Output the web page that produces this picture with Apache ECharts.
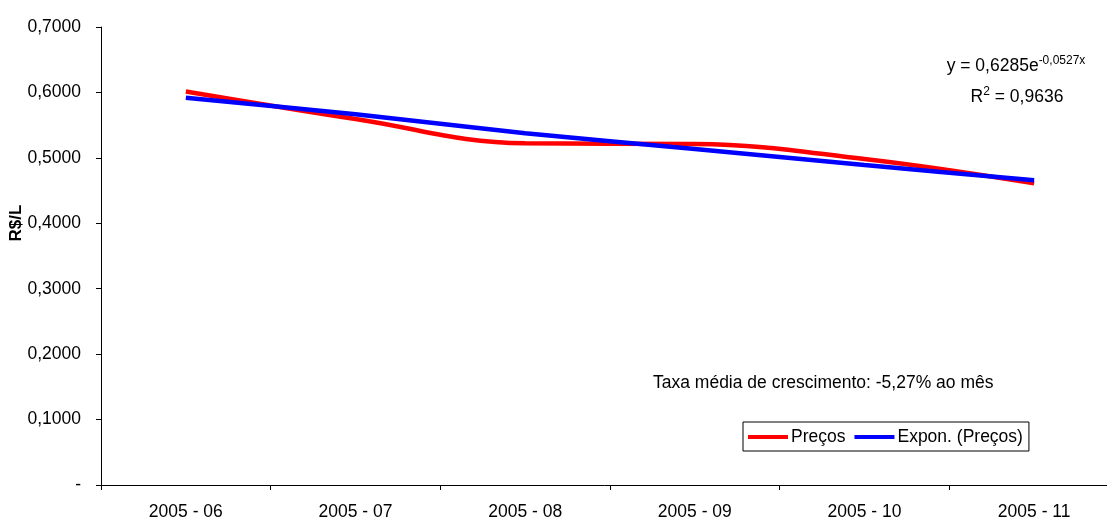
<!DOCTYPE html>
<html>
<head>
<meta charset="utf-8">
<script src="https://cdn.jsdelivr.net/npm/echarts@6/dist/echarts.min.js"></script>
<style>
html,body{margin:0;padding:0;background:#fff;}
#c{width:1107px;height:523px;}
</style>
</head>
<body>
<div id="c"></div>
<script>
const categories = ['2005 - 06', '2005 - 07', '2005 - 08', '2005 - 09', '2005 - 10', '2005 - 11'];
const precos = [0.6015, 0.5594, 0.5222, 0.5212, 0.4982, 0.4610];
const exponPrecos = [0.5920, 0.5666, 0.5375, 0.5135, 0.4890, 0.4657];
const yTickValues = [0, 0.1, 0.2, 0.3, 0.4, 0.5, 0.6, 0.7];
const yTickLabels = ['-', '0,1000', '0,2000', '0,3000', '0,4000', '0,5000', '0,6000', '0,7000'];
const seriesNames = ['Preços', 'Expon. (Preços)'];

const FONT = 'Liberation Sans, Arial, sans-serif';
const FS = 17.5;
const chart = echarts.init(document.getElementById('c'), null, {renderer: 'canvas'});

chart.setOption({
  backgroundColor: '#ffffff',
  animation: false,
  grid: {left: 101, top: 27, width: 1018, height: 458, containLabel: false, outerBoundsMode: 'none'},
  legend: {
    left: 743, top: 422,
    padding: [6, 6, 5, 5],
    borderColor: '#000', borderWidth: 1,
    itemWidth: 40, itemHeight: 4, itemGap: 9,
    icon: 'rect',
    textStyle: {fontFamily: FONT, fontSize: FS, color: '#000', padding: [0, 0, 0, -2]},
    data: seriesNames
  },
  xAxis: {
    type: 'category',
    data: categories,
    boundaryGap: true,
    axisLine: {lineStyle: {color: '#000', width: 1}},
    axisTick: {show: true, length: 5, lineStyle: {color: '#000'}},
    axisLabel: {fontFamily: FONT, fontSize: FS, color: '#000', margin: 18},
    splitLine: {show: false}
  },
  yAxis: {
    type: 'value',
    min: 0, max: 0.7, interval: 0.1,
    name: '',
    axisLine: {show: true, lineStyle: {color: '#000', width: 1}},
    axisTick: {show: true, length: 5, lineStyle: {color: '#000'}},
    splitLine: {show: false},
    axisLabel: {
      fontFamily: FONT, fontSize: FS, color: '#000', margin: 20,
      formatter: function (v) {
        const i = yTickValues.findIndex(t => Math.abs(t - v) < 1e-9);
        return i >= 0 ? yTickLabels[i] : '';
      }
    }
  },
  series: [
    {
      name: seriesNames[0], type: 'line', data: precos, smooth: 0.4,
      symbol: 'none', showSymbol: false,
      lineStyle: {color: '#ff0000', width: 4.5},
      itemStyle: {color: '#ff0000'},
      z: 2
    },
    {
      name: seriesNames[1], type: 'line', data: exponPrecos, smooth: 0.3,
      symbol: 'none', showSymbol: false,
      lineStyle: {color: '#0000ff', width: 4.5},
      itemStyle: {color: '#0000ff'},
      z: 3
    }
  ],
  graphic: [
    {
      type: 'text', x: 16, y: 223, rotation: Math.PI / 2,
      style: {text: 'R$/L', font: 'bold 17px ' + FONT, fill: '#000', align: 'center', verticalAlign: 'middle'}
    },
    {
      type: 'text', x: 1016, y: 66,
      style: {
        text: 'y = 0,6285e{sup|-0,0527x}',
        font: FS + 'px ' + FONT, fill: '#000', align: 'center', verticalAlign: 'middle',
        rich: {sup: {fontSize: 12, fontFamily: FONT, fill: '#000', padding: [0, 0, 11, 0]}}
      }
    },
    {
      type: 'text', x: 1017, y: 97,
      style: {
        text: 'R{sup|2} = 0,9636',
        font: FS + 'px ' + FONT, fill: '#000', align: 'center', verticalAlign: 'middle',
        rich: {sup: {fontSize: 12, fontFamily: FONT, fill: '#000', padding: [0, 0, 11, 0]}}
      }
    },
    {
      type: 'text', x: 653, y: 383,
      style: {text: 'Taxa média de crescimento: -5,27% ao mês', font: FS + 'px ' + FONT, fill: '#000', align: 'left', verticalAlign: 'middle'}
    }
  ]
});
</script>
</body>
</html>
